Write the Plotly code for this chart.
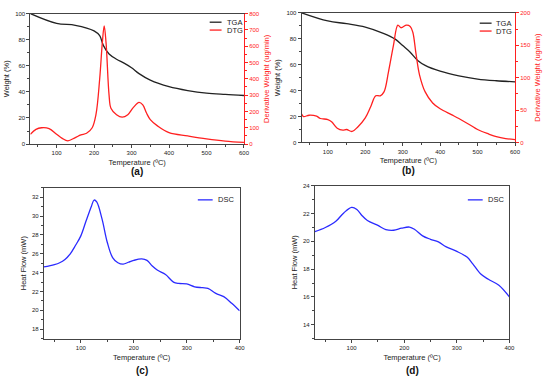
import plotly.graph_objects as go

# ---- data ----
tga_a_T = [30, 100, 150, 200, 215, 225, 240, 260, 280, 300, 320, 350, 400, 450, 500, 550, 600]
tga_a_W = [100, 92.5, 91, 86.7, 83, 75.4, 69, 65, 62, 58.5, 54, 49, 44, 41, 39, 38, 37.2]
dtg_a_T = [30, 45, 60, 80, 100, 115, 130, 150, 165, 180, 195, 205, 215, 222, 227, 232, 240, 245, 260, 275, 290, 305, 320, 330, 340, 350, 370, 400, 450, 500, 550, 600]
dtg_a_V = [60, 90, 100, 95, 60, 35, 20, 40, 56, 66, 100, 180, 400, 620, 725, 620, 300, 220, 180, 165, 180, 225, 255, 240, 190, 150, 110, 70, 50, 32, 18, 10]

tga_b_T = [30, 100, 150, 200, 250, 280, 300, 320, 340, 360, 400, 450, 500, 550, 600]
tga_b_W = [100, 93.7, 91.6, 89, 84, 79.7, 74.7, 69.6, 63.3, 59.5, 55, 51.4, 48.9, 47.6, 46.8]
dtg_b_T = [30, 35, 50, 70, 80, 100, 110, 125, 140, 150, 165, 180, 200, 215, 228, 240, 250, 262, 275, 287, 295, 300, 310, 320, 327, 335, 345, 360, 380, 400, 430, 450, 480, 500, 530, 550, 575, 600]
dtg_b_V = [44, 40, 42, 40.5, 37, 35.4, 32, 22, 19, 20, 17, 24, 38, 56, 72, 72, 78, 109, 149, 181, 177, 178, 181, 179, 170, 139, 104, 78, 61, 52, 43, 37, 27, 20, 13, 9, 6, 4.5]

dsc_c_T = [30, 50, 60, 70, 80, 90, 100, 110, 120, 125, 130, 140, 150, 160, 170, 180, 190, 200, 215, 225, 235, 245, 260, 275, 285, 300, 315, 330, 340, 355, 370, 385, 400]
dsc_c_H = [24.6, 24.85, 25.05, 25.4, 26.0, 26.9, 27.9, 29.5, 31.05, 31.7, 31.5, 29.7, 27.2, 25.6, 25.05, 24.9, 25.1, 25.3, 25.45, 25.3, 24.7, 24.25, 23.8, 23.0, 22.85, 22.8, 22.5, 22.4, 22.33, 21.8, 21.45, 20.75, 19.95]

dsc_d_T = [30, 50, 70, 85, 100, 110, 120, 130, 150, 165, 180, 195, 210, 220, 235, 250, 265, 280, 300, 320, 330, 345, 360, 380, 400]
dsc_d_H = [20.7, 21.0, 21.45, 22.05, 22.45, 22.3, 21.85, 21.5, 21.15, 20.85, 20.8, 20.95, 21.03, 20.86, 20.4, 20.15, 19.96, 19.6, 19.28, 18.85, 18.4, 17.67, 17.27, 16.84, 16.0]

panel_labels = ["(a)", "(b)", "(c)", "(d)"]

FONT = "Liberation Sans, Arial, sans-serif"
RED = "#ff2020"
BLUE = "#2b2bff"
BLACK = "#222222"
GRAY = "#444444"
W, H = 550, 383

fig = go.Figure()
fig.add_trace(go.Scatter(x=tga_a_T, y=tga_a_W, mode="lines", name="TGA", line=dict(color=BLACK, width=1.3, shape="spline"), xaxis="x", yaxis="y"))
fig.add_trace(go.Scatter(x=dtg_a_T, y=dtg_a_V, mode="lines", name="DTG", line=dict(color=RED, width=1.3, shape="spline"), xaxis="x", yaxis="y2"))
fig.add_trace(go.Scatter(x=tga_b_T, y=tga_b_W, mode="lines", name="TGA", line=dict(color=BLACK, width=1.3, shape="spline"), xaxis="x2", yaxis="y3"))
fig.add_trace(go.Scatter(x=dtg_b_T, y=dtg_b_V, mode="lines", name="DTG", line=dict(color=RED, width=1.3, shape="spline"), xaxis="x2", yaxis="y4"))
fig.add_trace(go.Scatter(x=dsc_c_T, y=dsc_c_H, mode="lines", name="DSC", line=dict(color=BLUE, width=1.3, shape="spline"), xaxis="x3", yaxis="y5"))
fig.add_trace(go.Scatter(x=dsc_d_T, y=dsc_d_H, mode="lines", name="DSC", line=dict(color=BLUE, width=1.3, shape="spline"), xaxis="x4", yaxis="y6"))

tickf = dict(family=FONT, size=6, color="#222")
titf = dict(family=FONT, size=7.5, color="#222")
redtick = dict(family=FONT, size=6, color=RED)
redtit = dict(family=FONT, size=7.5, color=RED)

def xax(domain, anchor, rng):
    return dict(domain=domain, anchor=anchor, range=rng, tick0=0, dtick=100, ticks="outside", ticklen=3, tickcolor=GRAY,
                minor=dict(ticks="outside", ticklen=2, dtick=50, tickcolor=GRAY), showline=True, linecolor=GRAY, linewidth=1,
                mirror=True, showgrid=False, zeroline=False, tickfont=tickf,
                title=dict(text="Temperature (ºC)", font=titf, standoff=4))

def yax(domain, anchor, rng, dtick, title, mirror):
    return dict(domain=domain, anchor=anchor, range=rng, tick0=0, dtick=dtick, ticks="outside", ticklen=3, tickcolor=GRAY,
                minor=dict(ticks="outside", ticklen=2, dtick=dtick / 2, tickcolor=GRAY), showline=True, linecolor=GRAY, linewidth=1,
                mirror=mirror, showgrid=False, zeroline=False, tickfont=tickf,
                title=dict(text=title, font=titf, standoff=4))

def yright(over, anchor, rng, dtick):
    return dict(overlaying=over, anchor=anchor, side="right", range=rng, tick0=0, dtick=dtick, ticks="outside", ticklen=3,
                tickcolor=RED, minor=dict(ticks="outside", ticklen=2, dtick=dtick / 2, tickcolor=RED),
                showline=True, linecolor=RED, linewidth=1, showgrid=False, zeroline=False, tickfont=redtick,
                title=dict(text="Derivative Weight (ug/min)", font=redtit, standoff=4))

dom_a_x = [0.0558, 0.4485]; dom_a_y = [0.6258, 0.972]
dom_b_x = [0.5545, 0.9467]; dom_b_y = [0.630, 0.974]
dom_c_x = [0.0805, 0.4405]; dom_c_y = [0.1097, 0.5099]
dom_d_x = [0.5787, 0.9364]; dom_d_y = [0.1097, 0.5151]

fig.update_layout(
    width=W, height=H, margin=dict(l=0, r=0, t=0, b=0),
    paper_bgcolor="white", plot_bgcolor="white", font=dict(family=FONT),
    showlegend=False,
    xaxis=xax(dom_a_x, "y", [30, 600]),
    yaxis=yax(dom_a_y, "x", [0, 100], 20, "Weight (%)", False),
    yaxis2=yright("y", "x", [0, 800], 100),
    xaxis2=xax(dom_b_x, "y3", [30, 600]),
    yaxis3=yax(dom_b_y, "x2", [0, 100], 20, "Weight (%)", False),
    yaxis4=yright("y3", "x2", [0, 200], 50),
    xaxis3=xax(dom_c_x, "y5", [30, 400]),
    yaxis5=yax(dom_c_y, "x3", [17, 33], 2, "Heat Flow (mW)", True),
    xaxis4=xax(dom_d_x, "y6", [30, 400]),
    yaxis6=yax(dom_d_y, "x4", [13, 24], 2, "Heat Flow (mW)", True),
)

# hand-drawn legends (short line sample + text), pixel positions converted to paper
legf = dict(family=FONT, size=7.5, color="#222")
def px(x): return x / W
def py(y): return 1 - y / H
legend_items = [
    # (line x0, line x1, y, text x, label, color)
    (212, 224, 19.5, 227, "TGA", BLACK),
    (212, 224, 27.5, 227, "DTG", RED),
    (485, 497, 20.5, 499, "TGA", BLACK),
    (485, 497, 28.5, 499, "DTG", RED),
    (200, 215, 200, 218, "DSC", BLUE),
    (473, 488, 200, 491, "DSC", BLUE),
]
for x0, x1, y, tx, lab, col in legend_items:
    fig.add_shape(type="line", xref="paper", yref="paper", x0=px(x0), x1=px(x1), y0=py(y), y1=py(y),
                  line=dict(color=col, width=1.3))
    fig.add_annotation(text=lab, x=px(tx), y=py(y), xref="paper", yref="paper", showarrow=False,
                       font=legf, xanchor="left", yanchor="middle")

labf = dict(family=FONT, size=10, color="#111")
for txt, x, y in zip(panel_labels, [0.252, 0.7506, 0.2605, 0.7575], [0.552, 0.557, 0.024, 0.024]):
    fig.add_annotation(text="<b>" + txt + "</b>", x=x, y=y, xref="paper", yref="paper", showarrow=False,
                       font=labf, xanchor="center", yanchor="middle")

fig.write_html("out.html", config={"displayModeBar": False},
               post_script="document.body.style.margin='0';document.body.style.padding='0';document.body.style.overflow='hidden';")
